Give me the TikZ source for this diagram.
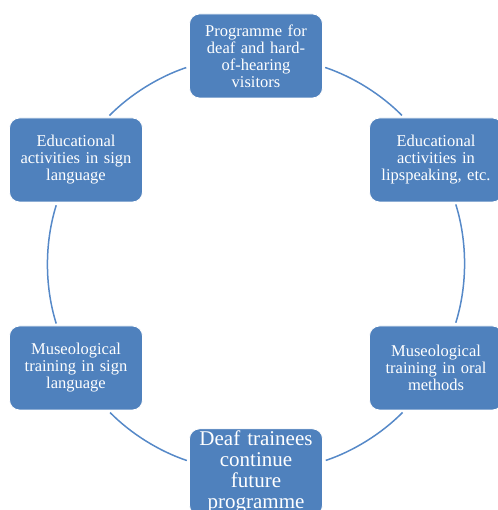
\documentclass[tikz,border=0pt]{standalone}
\usepackage{fontspec}
\setmainfont{Liberation Serif}
\definecolor{boxblue}{RGB}{79,129,189}
\definecolor{arcblue}{RGB}{86,137,200}
\tikzset{
  stage/.style={draw=white, line width=0.8pt, fill=boxblue, rounded corners=10pt,
    minimum width=133pt, minimum height=84pt, text width=128pt, align=center,
    text=white, font=\fontsize{16.5}{17}\selectfont, inner sep=2pt},
  link/.style={arcblue, line width=1.5pt, shorten <=3pt, shorten >=3pt}
}
\begin{document}
\begin{tikzpicture}[x=1pt,y=1pt]
\useasboundingbox (0,0) rectangle (497,510);
% ring of arcs, centre (256,246), radius 208
\node[stage] (prog) at (256,454) {Programme for\\ deaf and hard-\\ of-hearing\\ visitors};
\node[stage] (edsign) at (76,350) {Educational\\ activities in sign\\ language};
\node[stage] (edlip) at (436,350) {Educational\\ activities in\\ lipspeaking, etc.};
\node[stage] (musign) at (76,142) {Museological\\ training in sign\\ language};
\node[stage] (muoral) at (436,142) {Museological\\ training in oral\\ methods};
\node[stage, font=\fontsize{21}{21}\selectfont] (future) at (256,38) {Deaf trainees\\ continue\\ future\\ programme};
\foreach \from/\s/\e in {prog.189/108.6/135.4, edsign.246/162.65/197.35,
    musign.307/224.6/251.4, future.9/288.6/315.4,
    muoral.66/342.65/377.35, edlip.127/44.6/71.4}
  \draw[link] (\from) arc[start angle=\s, end angle=\e, radius=208];
\end{tikzpicture}
\end{document}
